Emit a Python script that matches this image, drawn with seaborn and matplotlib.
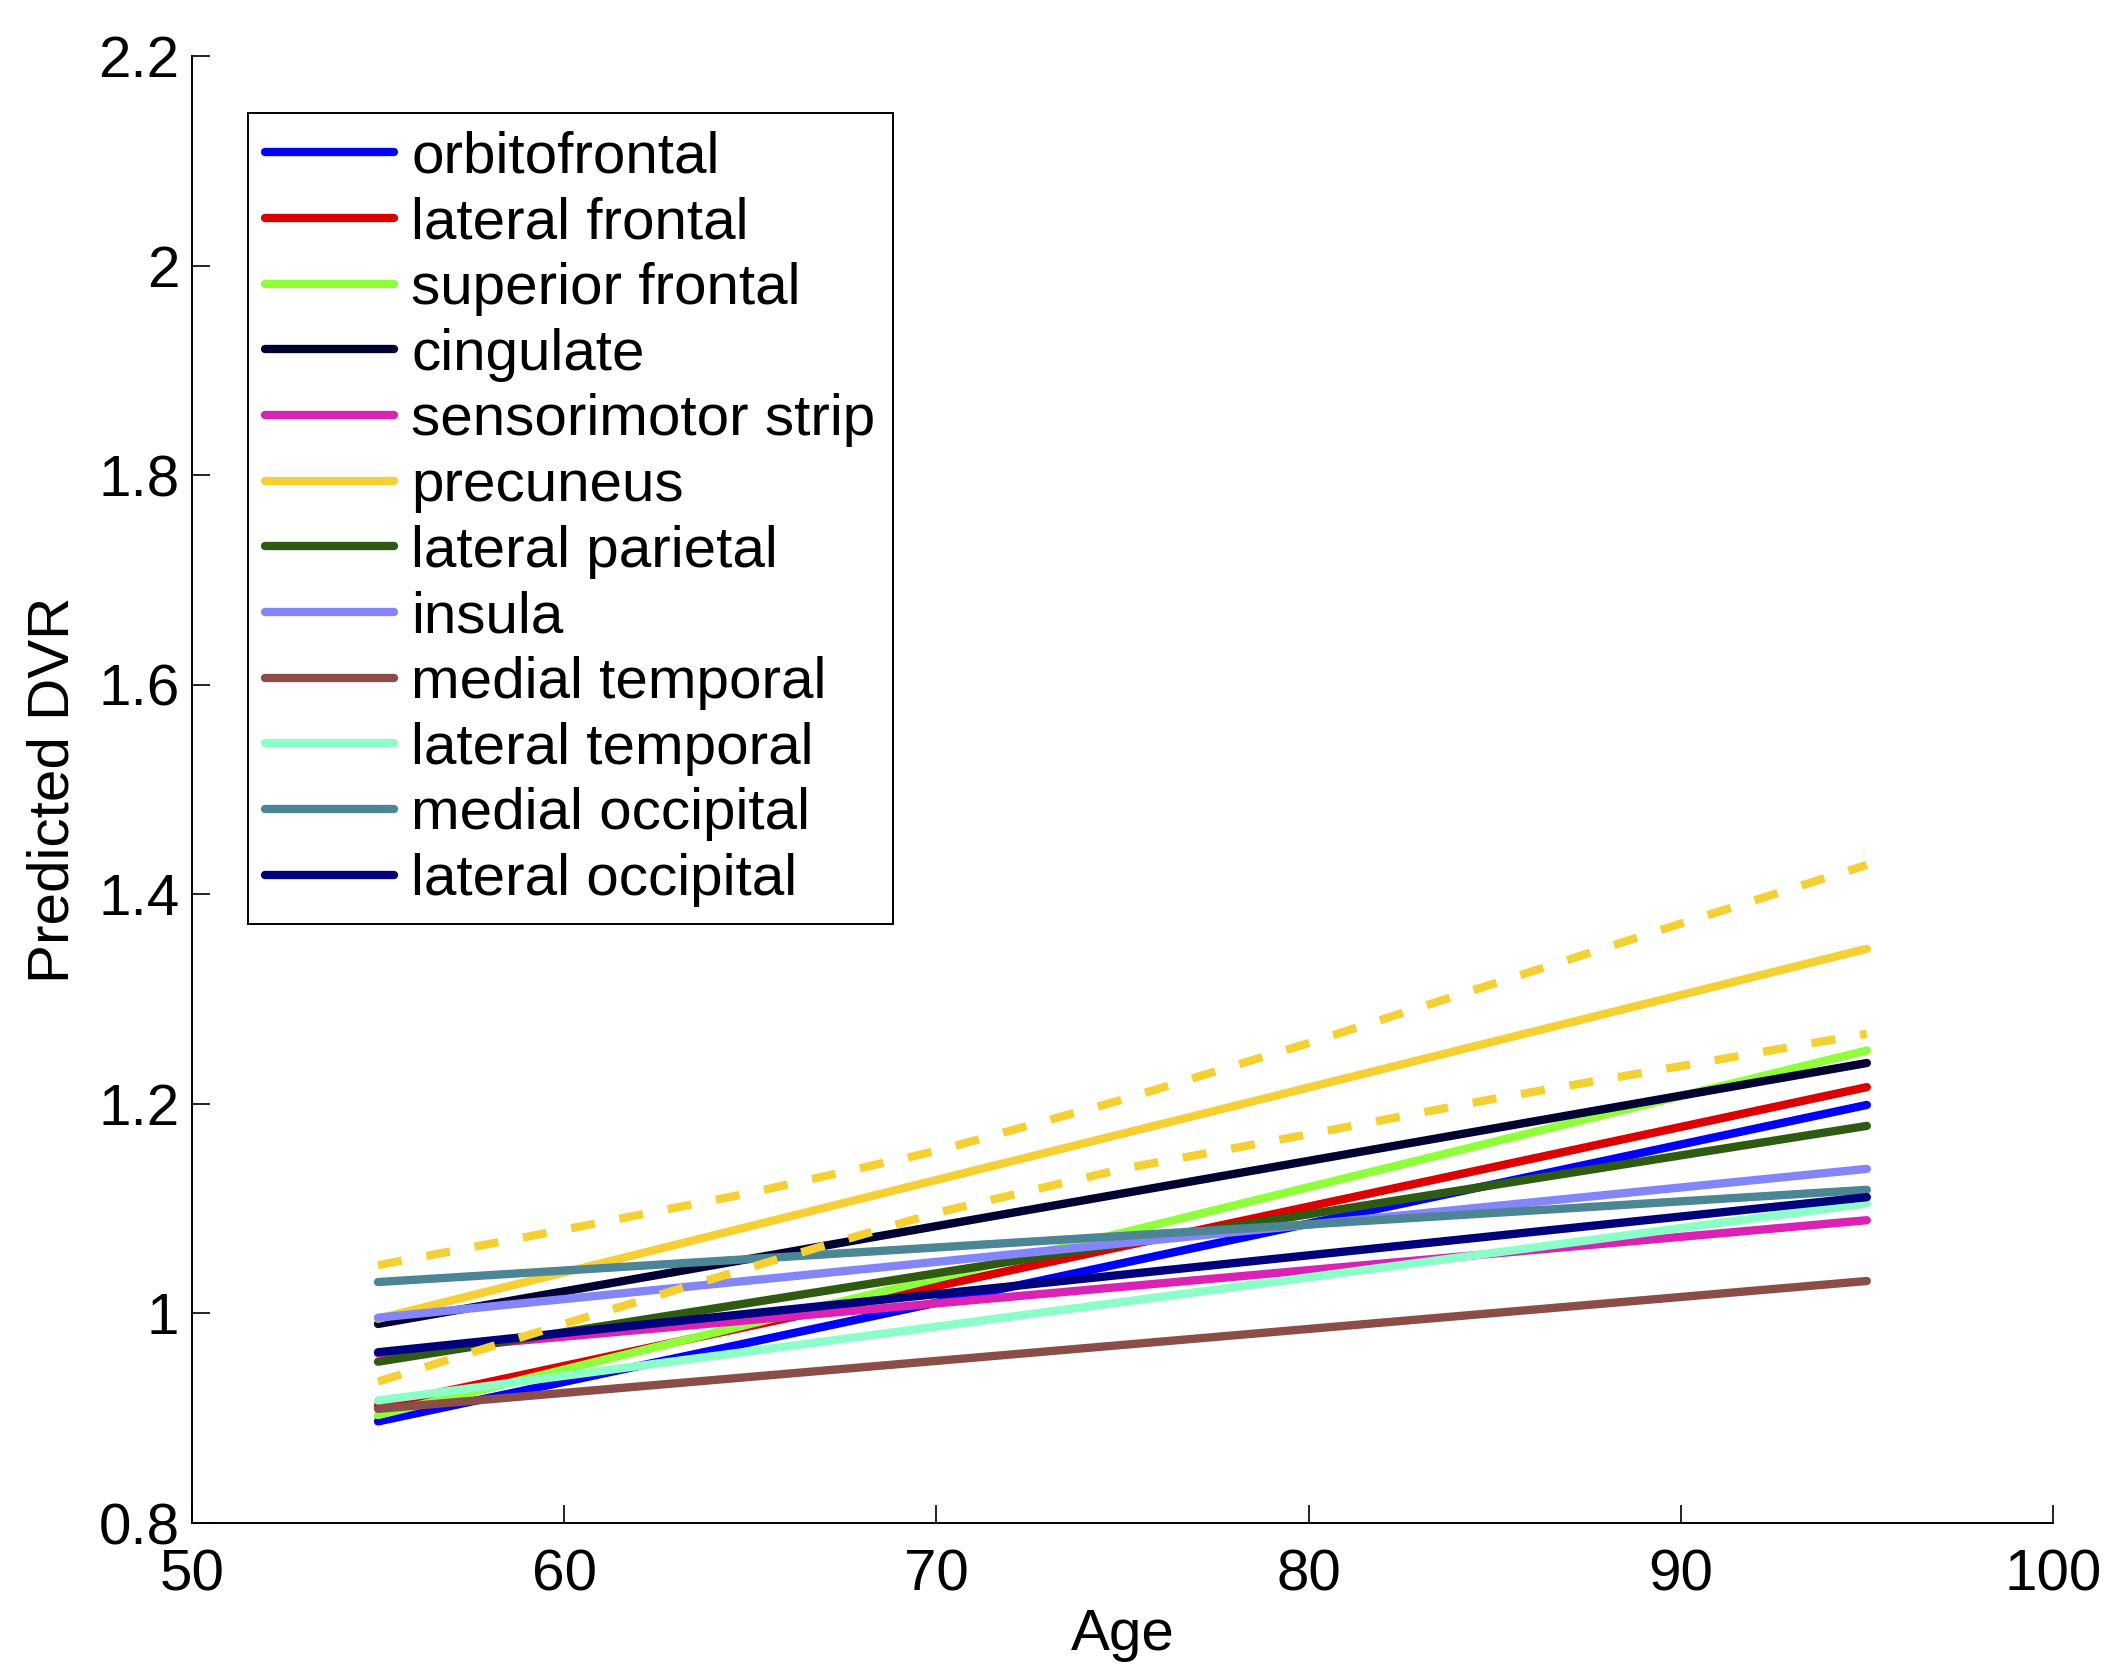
import numpy as np
import pandas as pd
import seaborn as sns
import matplotlib
matplotlib.use("Agg")
import matplotlib.pyplot as plt

# regional fits of predicted DVR vs age (values at age 55 and age 95)
regions = ["orbitofrontal", "lateral frontal", "superior frontal", "cingulate",
           "sensorimotor strip", "precuneus", "lateral parietal", "insula",
           "medial temporal", "lateral temporal", "medial occipital",
           "lateral occipital"]
ages = [55, 95]
dvr_start = [0.897, 0.912, 0.903, 0.990, 0.962, 0.995, 0.954, 0.996,
             0.909, 0.917, 1.030, 0.963]
dvr_end = [1.199, 1.216, 1.251, 1.239, 1.089, 1.348, 1.179, 1.138,
           1.031, 1.105, 1.118, 1.111]
colors = ["#0000FF", "#DD0000", "#8EFF3A", "#000033", "#DA22B4", "#F4D035",
          "#2F5A12", "#8585FA", "#8B4D48", "#8CFFC8", "#4C8594", "#00007D"]

# precuneus confidence band
ci_ages = [55, 60, 65, 70, 75, 80, 85, 90, 95]
ci_upper = [1.046, 1.080, 1.115, 1.155, 1.204, 1.258, 1.315, 1.372, 1.428]
ci_lower = [0.935, 0.990, 1.044, 1.096, 1.138, 1.171, 1.205, 1.236, 1.267]

rows = []
for r, a, b in zip(regions, dvr_start, dvr_end):
    rows.append({"region": r, "Age": ages[0], "DVR": a})
    rows.append({"region": r, "Age": ages[1], "DVR": b})
df = pd.DataFrame(rows)

ci = pd.DataFrame({
    "Age": ci_ages * 2,
    "DVR": ci_upper + ci_lower,
    "band": ["upper"] * len(ci_ages) + ["lower"] * len(ci_ages),
})

sns.set_style("ticks", {"text.color": "black", "axes.labelcolor": "black",
                        "xtick.color": "black", "ytick.color": "black",
                        "axes.edgecolor": "black"})
plt.rcParams["font.family"] = ["Liberation Sans", "DejaVu Sans"]
plt.rcParams["font.size"] = 42

fig = plt.figure(figsize=(21.16, 16.75), dpi=100)
ax = fig.add_axes([0.0907, 0.0907, 0.8795, 0.8759])

sns.lineplot(data=df, x="Age", y="DVR", hue="region", hue_order=regions,
             palette=colors, linewidth=6, legend=False, ax=ax)
sns.lineplot(data=ci, x="Age", y="DVR", units="band", estimator=None,
             color="#F4D035", linewidth=6, legend=False, ax=ax,
             linestyle=(0, (2.9, 3.0)))

ax.set_xlim(50, 100)
ax.set_ylim(0.8, 2.2)
ax.set_xticks([50, 60, 70, 80, 90, 100])
ax.set_yticks([0.8, 1.0, 1.2, 1.4, 1.6, 1.8, 2.0, 2.2])
ax.set_yticklabels(["0.8", "1", "1.2", "1.4", "1.6", "1.8", "2", "2.2"])
ax.tick_params(direction="in", length=13, width=1.2, labelsize=42,
               colors="black")
ax.tick_params(axis="x", pad=18)
ax.tick_params(axis="y", pad=9)
sns.despine(ax=ax)
for s in ["left", "bottom"]:
    ax.spines[s].set_linewidth(1.4)
    ax.spines[s].set_color("black")

ax.set_xlabel("Age", fontsize=42, color="black")
ax.set_ylabel("Predicted DVR", fontsize=42, color="black")
ax.xaxis.set_label_coords(0.5, -0.058)
ax.yaxis.set_label_coords(-0.060, 0.5)

leg = ax.legend(ax.lines[:len(regions)], regions, loc="upper left",
                bbox_to_anchor=(0.030, 0.961), borderaxespad=0,
                fontsize=42, handlelength=2.2, handletextpad=0.3,
                labelspacing=0.20, borderpad=0.3, fancybox=False,
                framealpha=1, edgecolor="black")
leg.get_frame().set_linewidth(1.4)
for t in leg.get_texts():
    t.set_color("black")

fig.savefig("out.png", dpi=100)
